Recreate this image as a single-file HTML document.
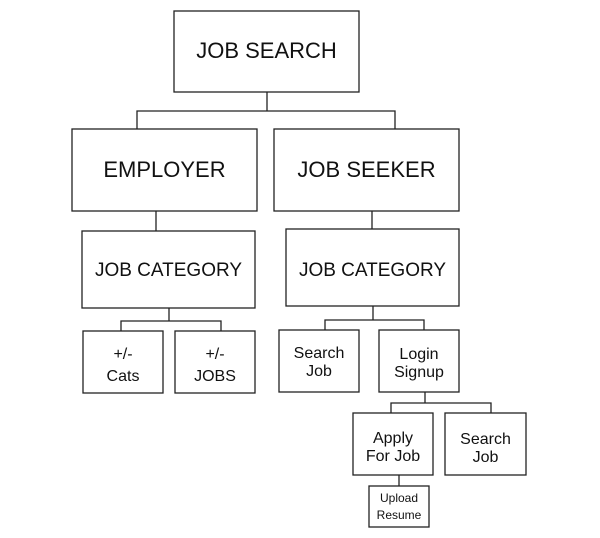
<!DOCTYPE html>
<html><head><style>html,body{margin:0;padding:0;background:#fff;}svg{display:block}</style></head>
<body>
<svg width="600" height="538" viewBox="0 0 600 538" xmlns="http://www.w3.org/2000/svg">
<g fill="none" stroke="#222" stroke-width="1.3">
<rect x="174" y="11" width="185" height="81"/>
<rect x="72" y="129" width="185" height="82"/>
<rect x="274" y="129" width="185" height="82"/>
<rect x="82" y="231" width="173" height="77"/>
<rect x="286" y="229" width="173" height="77"/>
<rect x="83" y="331" width="80" height="62"/>
<rect x="175" y="331" width="80" height="62"/>
<rect x="279" y="330" width="80" height="62"/>
<rect x="379" y="330" width="80" height="62"/>
<rect x="353" y="413" width="80" height="62"/>
<rect x="445" y="413" width="81" height="62"/>
<rect x="369" y="486" width="60" height="41"/>
<path d="M267 92V111M137 129V111H395V129"/>
<path d="M156 211V231M372 211V229"/>
<path d="M169 308V321M121 331V321H221V331"/>
<path d="M373 306V320M325 330V320H424V330"/>
<path d="M425 392V403M391 413V403H491V413"/>
<path d="M399 475V486"/>
</g>
<g font-family="Liberation Sans, sans-serif" fill="#111" text-anchor="middle">
<text x="266.5" y="58" font-size="22">JOB SEARCH</text>
<text x="164.5" y="177" font-size="22">EMPLOYER</text>
<text x="366.5" y="177" font-size="22">JOB SEEKER</text>
<text x="168.5" y="276" font-size="19">JOB CATEGORY</text>
<text x="372.5" y="276" font-size="19">JOB CATEGORY</text>
<g font-size="16">
<text x="123" y="359">+/-</text><text x="123" y="381">Cats</text>
<text x="215" y="359">+/-</text><text x="215" y="381">JOBS</text>
<text x="319" y="358">Search</text><text x="319" y="376">Job</text>
<text x="419" y="359">Login</text><text x="419" y="377">Signup</text>
<text x="393" y="443">Apply</text><text x="393" y="461">For Job</text>
<text x="485.5" y="444">Search</text><text x="485.5" y="462">Job</text>
</g>
<text x="399" y="502" font-size="12">Upload</text>
<text x="399" y="519" font-size="12">Resume</text>
</g>
</svg>
</body></html>
